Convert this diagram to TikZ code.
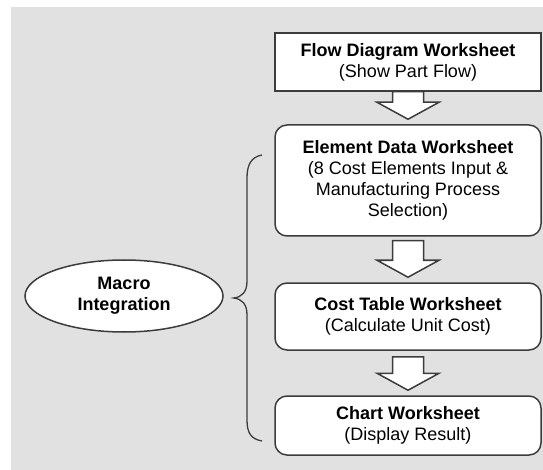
\documentclass[tikz,border=0pt]{standalone}
\usepackage{fontspec}
\setmainfont{Liberation Sans}
\usetikzlibrary{calc,shapes.geometric}
\definecolor{bggray}{RGB}{225,225,225}
\definecolor{edge}{RGB}{60,60,60}

\begin{document}
\begin{tikzpicture}
  [x=1pt,y=-1pt,
   every node/.style={draw=edge,line width=1.5pt,fill=white,align=center,
     font=\fontsize{18}{21}\selectfont},
   sheet/.style={rectangle,rounded corners=12pt,minimum width=266pt},
   flowarrow/.style={draw=edge,line width=1.5pt,fill=white,line join=miter},
   bracket/.style={draw=edge,line width=1.3pt}]
  \fill[white] (0,0) rectangle (543,470);
  \fill[bggray] (11,7) rectangle (543,470);
  \useasboundingbox (0,0) rectangle (543,470);

  \node[sheet,sharp corners,minimum height=58pt] (fd) at (408,62)
    {\textbf{Flow Diagram Worksheet}\\(Show Part Flow)};
  \node[sheet,minimum height=111pt] (ed) at (408,180.5)
    {\textbf{Element Data Worksheet}\\(8 Cost Elements Input \&\\Manufacturing Process\\Selection)};
  \node[sheet,minimum height=67pt] (ct) at (408,316.5)
    {\textbf{Cost Table Worksheet}\\(Calculate Unit Cost)};
  \node[sheet,minimum height=59pt] (cw) at (408,425.5)
    {\textbf{Chart Worksheet}\\(Display Result)};
  \node[ellipse,minimum width=198pt,minimum height=72pt,
    font=\fontsize{18}{21}\selectfont\bfseries] (mi) at (124,296) {Macro\\Integration};

  \foreach \from/\to/\gap in {fd/ed/0, ed/ct/4, ct/cw/6}
    \draw[flowarrow] ($(\from.south)+(-15.5,\gap)$) -- ($(\to.north)+(-15.5,-22)$)
      -- ($(\to.north)+(-31,-22)$) -- ($(\to.north)+(0,-5)$)
      -- ($(\to.north)+(31,-22)$) -- ($(\to.north)+(15.5,-22)$)
      -- ($(\from.south)+(15.5,\gap)$) -- cycle;

  % brace from the macro ellipse to the three worksheets
  \coordinate (tip) at ($(mi.east)+(10,2)$);
  \draw[bracket] (262,155) .. controls (251,157) and (247,165) .. (247,178)
    -- (247,281) .. controls (247,292) and (242,297) .. (tip)
    .. controls (242,299) and (247,304) .. (247,315)
    -- (247,420) .. controls (247,433) and (251,439) .. (262,441);

\end{tikzpicture}
\end{document}
